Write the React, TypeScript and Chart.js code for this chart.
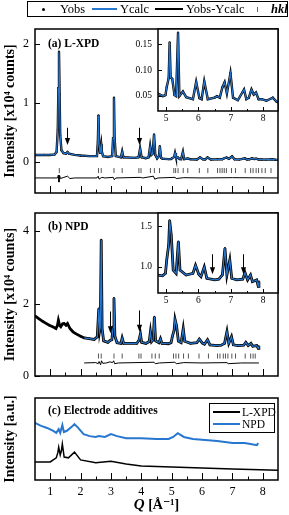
import React, { useEffect, useRef } from 'react';
import { Chart, registerables } from 'chart.js';

Chart.register(...registerables);

const FONT = '"Liberation Serif", "Times New Roman", "DejaVu Serif", serif';
const BLUE = '#2777d0';
const W = 289;
const H = 515;

// ---------------- Panel (a) L-XPD ----------------
const qA = [0.50, 0.80, 1.00, 1.15, 1.21, 1.25, 1.27, 1.29, 1.31, 1.33, 1.37, 1.44, 1.52, 1.57, 1.62, 1.80, 2.00, 2.30, 2.54, 2.57, 2.59, 2.61, 2.64, 2.66, 2.68, 2.70, 2.74, 2.90, 3.04, 3.07, 3.10, 3.12, 3.16, 3.33, 3.37, 3.41, 3.80, 3.91, 3.96, 4.01, 4.15, 4.24, 4.29, 4.33, 4.37, 4.42, 4.46, 4.52, 4.58, 4.61, 4.65, 4.70, 4.75, 4.90, 4.98, 5.02, 5.08, 5.11, 5.14, 5.19, 5.26, 5.31, 5.37, 5.41, 5.52, 5.62, 5.83, 5.93, 6.03, 6.10, 6.18, 6.29, 6.50, 6.57, 6.66, 6.74, 6.81, 6.88, 6.99, 7.07, 7.22, 7.41, 7.48, 7.56, 7.64, 7.71, 7.78, 7.86, 7.96, 8.10, 8.30, 8.42, 8.50];
const yobsA = [0.12, 0.12, 0.12, 0.13, 0.17, 0.55, 1.25, 1.87, 1.15, 0.45, 0.20, 0.15, 0.14, 0.17, 0.14, 0.12, 0.11, 0.10, 0.10, 0.35, 0.79, 0.30, 0.16, 0.22, 0.30, 0.18, 0.10, 0.085, 0.10, 0.40, 1.09, 0.40, 0.10, 0.08, 0.18, 0.08, 0.07, 0.08, 0.23, 0.08, 0.065, 0.08, 0.27, 0.12, 0.14, 0.47, 0.12, 0.06, 0.10, 0.27, 0.07, 0.055, 0.054, 0.049, 0.051, 0.067, 0.084, 0.154, 0.085, 0.083, 0.051, 0.049, 0.173, 0.049, 0.058, 0.047, 0.043, 0.077, 0.045, 0.043, 0.078, 0.043, 0.046, 0.049, 0.046, 0.066, 0.076, 0.054, 0.094, 0.046, 0.041, 0.062, 0.043, 0.046, 0.062, 0.052, 0.056, 0.043, 0.043, 0.040, 0.046, 0.038, 0.037];
// the calculated profile overlays the observed one within the line width
const ycalcA = yobsA;
const qDiffA = [0.50, 1.00, 1.24, 1.27, 1.29, 1.31, 1.34, 1.45, 1.57, 1.65, 1.80, 2.54, 2.58, 2.61, 2.70, 2.80, 3.08, 3.11, 3.16, 3.96, 4.05, 4.40, 4.44, 4.55, 5.11, 5.15, 5.40, 6.00, 7.00, 8.50];
const diffA = [-0.27, -0.27, -0.27, -0.22, -0.34, -0.23, -0.28, -0.26, -0.24, -0.28, -0.27, -0.27, -0.24, -0.29, -0.26, -0.27, -0.26, -0.30, -0.27, -0.26, -0.27, -0.24, -0.29, -0.27, -0.26, -0.28, -0.265, -0.27, -0.265, -0.27];
const hklA = [1.30, 2.59, 2.68, 3.10, 3.37, 3.92, 3.99, 4.30, 4.43, 4.60, 5.07, 5.13, 5.21, 5.38, 5.53, 5.91, 6.19, 6.51, 6.59, 6.66, 6.73, 6.80, 6.97, 7.10, 7.42, 7.60, 7.68, 7.78, 7.86, 7.97, 8.08, 8.27];
const hklRowA = -0.145;
const arrowQA = [1.56, 3.94];
const arrowFromA = [0.58, 0.58];
const arrowToA = [0.29, 0.29];

// ---------------- Panel (b) NPD ----------------
const qB = [0.50, 0.60, 0.75, 0.85, 0.97, 1.10, 1.19, 1.24, 1.27, 1.31, 1.35, 1.41, 1.46, 1.52, 1.57, 1.65, 1.75, 1.84, 2.00, 2.12, 2.28, 2.45, 2.55, 2.60, 2.63, 2.65, 2.68, 2.71, 2.76, 2.90, 2.97, 3.03, 3.07, 3.10, 3.13, 3.20, 3.33, 3.37, 3.42, 3.85, 3.92, 3.97, 4.01, 4.15, 4.26, 4.30, 4.34, 4.39, 4.43, 4.47, 4.58, 4.63, 4.68, 4.73, 4.89, 4.98, 5.02, 5.08, 5.11, 5.16, 5.22, 5.31, 5.38, 5.43, 5.62, 5.83, 5.91, 6.01, 6.08, 6.18, 6.26, 6.50, 6.63, 6.74, 6.82, 6.88, 6.97, 7.03, 7.18, 7.37, 7.44, 7.52, 7.61, 7.67, 7.74, 7.80, 7.85, 7.87];
const yobsB = [1.66, 1.60, 1.51, 1.46, 1.40, 1.35, 1.31, 1.40, 1.54, 1.40, 1.36, 1.44, 1.45, 1.40, 1.45, 1.31, 1.22, 1.17, 1.10, 1.05, 1.03, 1.01, 1.08, 1.86, 1.25, 1.35, 3.76, 1.30, 0.97, 0.93, 0.98, 1.00, 1.35, 2.15, 1.10, 0.92, 0.90, 1.05, 0.90, 0.90, 0.98, 1.16, 0.93, 0.90, 0.95, 1.22, 0.95, 1.00, 1.63, 0.97, 0.92, 1.03, 0.90, 0.90, 0.89, 0.92, 1.085, 1.27, 1.57, 1.39, 0.96, 0.92, 1.31, 0.96, 0.90, 0.92, 1.02, 0.91, 0.88, 1.00, 0.86, 0.84, 0.85, 0.90, 1.23, 0.90, 1.085, 0.86, 0.84, 0.85, 0.93, 0.84, 0.90, 0.82, 0.83, 0.84, 0.76, 0.82];
const ycalcB = yobsB;
const refineStartB = 2.12;
const qDiffB = [2.12, 2.50, 2.58, 2.61, 2.66, 2.69, 2.73, 2.85, 2.97, 3.05, 3.09, 3.12, 3.25, 4.42, 4.46, 4.60, 5.10, 5.16, 5.40, 6.00, 6.82, 6.86, 7.30, 7.87];
const diffB = [0.36, 0.37, 0.34, 0.40, 0.31, 0.42, 0.35, 0.36, 0.39, 0.37, 0.42, 0.34, 0.36, 0.38, 0.34, 0.36, 0.38, 0.34, 0.37, 0.36, 0.37, 0.34, 0.36, 0.36];
const hklB = [2.59, 2.68, 3.10, 3.37, 3.92, 3.99, 4.35, 4.46, 4.59, 5.06, 5.14, 5.23, 5.39, 5.55, 5.90, 6.21, 6.51, 6.59, 6.70, 6.77, 6.85, 6.98, 7.10, 7.42, 7.60, 7.68, 7.75];
const hklRowB = 0.55;
const arrowQB = [2.97, 3.94];
const arrowFromB = [1.78, 1.81];
const arrowToB = [1.18, 1.22];
const arrowQInsetB = [6.43, 7.37];
const arrowFromInsetB = [1.155, 1.155];
const arrowToInsetB = [0.91, 0.91];

// ---------------- Panel (c) Electrode additives ----------------
const qCX = [0.50, 1.00, 1.20, 1.25, 1.28, 1.33, 1.37, 1.40, 1.46, 1.60, 1.80, 2.00, 2.50, 3.00, 3.50, 4.00, 5.00, 6.00, 7.00, 8.50];
const cXPD = [2.2, 2.2, 2.7, 3.3, 4.0, 3.05, 3.6, 4.4, 2.8, 2.7, 3.4, 2.45, 2.1, 2.3, 1.95, 1.7, 1.6, 1.45, 1.35, 1.2];
const qCN = [0.50, 0.70, 0.90, 1.10, 1.20, 1.28, 1.33, 1.40, 1.45, 1.55, 1.70, 1.80, 1.90, 2.10, 2.30, 2.50, 2.60, 2.80, 3.00, 3.20, 3.50, 4.00, 4.50, 4.90, 5.05, 5.20, 5.40, 5.70, 6.00, 6.50, 7.00, 7.40, 7.60, 7.80, 7.85];
const cNPD = [6.95, 6.6, 6.35, 6.0, 5.75, 6.2, 5.75, 6.7, 5.85, 6.0, 6.45, 6.8, 6.45, 5.6, 5.35, 5.25, 5.35, 5.25, 5.6, 5.35, 5.1, 5.1, 5.0, 5.0, 5.25, 5.7, 5.25, 5.0, 4.9, 4.75, 4.5, 4.5, 4.4, 4.25, 4.5];

// ---------------- Axis ticks ----------------
const qMajorTicks = [1, 2, 3, 4, 5, 6, 7, 8];
const qMinorTicks = [1.5, 2.5, 3.5, 4.5, 5.5, 6.5, 7.5];
const insetMajorTicks = [5, 6, 7, 8];
const insetMinorTicks = [5.5, 6.5, 7.5];
const yTicksA = [0, 1, 2];
const yTicksB = [0, 2, 4];
const yTicksInsetA = [0.05, 0.10, 0.15];
const yTicksInsetB = [1.0, 1.5];

const pts = (xs: number[], ys: number[]) => xs.map((x, i) => ({ x, y: ys[i] }));
const row = (xs: number[], y: number) => xs.map((x) => ({ x, y }));

type Spec = {
  id: string;
  area: [number, number, number, number];
  xMin: number; xMax: number; yMin: number; yMax: number;
  datasets: any[];
  xLabels: number[] | null; xDec: number; xFont: number; xPad: number;
  yLabels: number[] | null; yDec: number; yFont: number; yPad: number;
  xMajor: number[]; xMinor: number[]; majorLen: number; minorLen: number;
  yMajor: number[]; yLen: number;
  arrows: { q: number[]; from: number[]; to: number[] } | null;
  label?: string; labelDy?: number;
  whiteBg?: boolean;
  yTitle?: string;
  xTitle?: boolean;
};

function makeDecor(s: Spec) {
  return {
    id: 'decor_' + s.id,
    beforeDraw(chart: any) {
      if (!s.whiteBg) return;
      const { ctx, chartArea: a } = chart;
      ctx.save();
      ctx.fillStyle = '#fff';
      ctx.fillRect(a.left, a.top, a.right - a.left, a.bottom - a.top);
      ctx.restore();
    },
    afterDraw(chart: any) {
      const { ctx, chartArea: a, scales } = chart;
      const xs = scales.x;
      const ys = scales.y;
      ctx.save();
      ctx.strokeStyle = '#000';
      ctx.fillStyle = '#000';
      ctx.lineWidth = 1;
      ctx.beginPath();
      s.xMajor.forEach((v) => {
        const px = Math.round(xs.getPixelForValue(v)) + 0.5;
        ctx.moveTo(px, a.bottom);
        ctx.lineTo(px, a.bottom - s.majorLen);
      });
      s.xMinor.forEach((v) => {
        const px = Math.round(xs.getPixelForValue(v)) + 0.5;
        ctx.moveTo(px, a.bottom);
        ctx.lineTo(px, a.bottom - s.minorLen);
      });
      s.yMajor.forEach((v) => {
        const py = Math.round(ys.getPixelForValue(v)) + 0.5;
        ctx.moveTo(a.left, py);
        ctx.lineTo(a.left + s.yLen, py);
      });
      ctx.stroke();
      if (s.arrows) {
        s.arrows.q.forEach((q, i) => {
          const px = Math.round(xs.getPixelForValue(q)) + 0.5;
          const p0 = ys.getPixelForValue(s.arrows!.from[i]);
          const p1 = ys.getPixelForValue(s.arrows!.to[i]);
          ctx.beginPath();
          ctx.moveTo(px, p0);
          ctx.lineTo(px, p1 - 5);
          ctx.stroke();
          ctx.beginPath();
          ctx.moveTo(px, p1);
          ctx.lineTo(px - 2.6, p1 - 7);
          ctx.lineTo(px + 2.6, p1 - 7);
          ctx.closePath();
          ctx.fill();
        });
      }
      ctx.lineWidth = 1.5;
      ctx.strokeRect(a.left, a.top, a.right - a.left, a.bottom - a.top);
      if (s.label) {
        ctx.font = `bold 11.5px ${FONT}`;
        ctx.textAlign = 'left';
        ctx.textBaseline = 'middle';
        ctx.fillText(s.label, a.left + 13, a.top + (s.labelDy ?? 14));
      }
      if (s.yTitle) {
        ctx.save();
        ctx.translate(10, (a.top + a.bottom) / 2);
        ctx.rotate(-Math.PI / 2);
        ctx.font = `bold 14px ${FONT}`;
        ctx.textAlign = 'center';
        ctx.textBaseline = 'middle';
        ctx.fillText(s.yTitle, 0, 0);
        ctx.restore();
      }
      if (s.xTitle) {
        const q = 'Q';
        const rest = ' [Å⁻¹]';
        ctx.textBaseline = 'middle';
        ctx.textAlign = 'left';
        ctx.font = `italic bold 15px ${FONT}`;
        const wq = ctx.measureText(q).width;
        ctx.font = `bold 14px ${FONT}`;
        const wr = ctx.measureText(rest).width;
        const cx = (a.left + a.right) / 2;
        const x0 = cx - (wq + wr) / 2;
        ctx.font = `italic bold 15px ${FONT}`;
        ctx.fillText(q, x0, 505);
        ctx.font = `bold 14px ${FONT}`;
        ctx.fillText(rest, x0 + wq, 505);
      }
      ctx.restore();
    },
  };
}

const Y_AXIS_W = 30;
const X_AXIS_H = 18;

function buildConfig(s: Spec): any {
  const [l, t, r, b] = s.area;
  return {
    type: 'line',
    data: { datasets: s.datasets },
    options: {
      responsive: false,
      animation: false,
      events: [],
      layout: {
        padding: { left: l - Y_AXIS_W, top: t, right: W - r, bottom: H - b - X_AXIS_H },
        autoPadding: false,
      },
      plugins: { legend: { display: false }, tooltip: { enabled: false }, title: { display: false } },
      elements: { line: { tension: 0 }, point: { radius: 0 } },
      scales: {
        x: {
          type: 'linear',
          min: s.xMin,
          max: s.xMax,
          afterFit: (sc: any) => { sc.height = X_AXIS_H; },
          afterBuildTicks: (sc: any) => {
            if (s.xLabels) sc.ticks = s.xLabels.map((v) => ({ value: v }));
          },
          grid: { display: false, drawTicks: false },
          border: { display: false },
          ticks: {
            display: !!s.xLabels,
            color: '#000',
            padding: s.xPad,
            maxRotation: 0,
            autoSkip: false,
            font: { family: FONT, size: s.xFont },
            callback: (v: any) => Number(v).toFixed(s.xDec),
          },
        },
        y: {
          type: 'linear',
          min: s.yMin,
          max: s.yMax,
          afterFit: (sc: any) => { sc.width = Y_AXIS_W; },
          afterBuildTicks: (sc: any) => {
            if (s.yLabels) sc.ticks = s.yLabels.map((v) => ({ value: v }));
          },
          grid: { display: false, drawTicks: false },
          border: { display: false },
          ticks: {
            display: !!s.yLabels,
            color: '#000',
            padding: s.yPad,
            autoSkip: false,
            font: { family: FONT, size: s.yFont },
            callback: (v: any) => Number(v).toFixed(s.yDec),
          },
        },
      },
    },
    plugins: [makeDecor(s)],
  };
}

const calcDs = (data: any[]) => ({ data, borderColor: BLUE, borderWidth: 1.2, pointRadius: 0 });
const obsDs = (data: any[], w: number) => ({
  data, borderColor: '#000', borderWidth: w, pointRadius: 1.1, pointBackgroundColor: '#000', pointBorderWidth: 0,
});
const diffDs = (data: any[]) => ({ data, borderColor: '#000', borderWidth: 1, pointRadius: 0 });
const hklDs = (data: any[]) => ({
  data, showLine: false, pointStyle: 'line', pointRotation: 90, pointRadius: 2.5,
  pointBorderColor: '#555', pointBorderWidth: 1, pointBackgroundColor: '#555',
});

const calcBIdx = qB.map((q, i) => (q >= refineStartB ? i : -1)).filter((i) => i >= 0);

const specs: Spec[] = [
  {
    id: 'a', area: [35, 29, 278, 193], xMin: 0.5, xMax: 8.5, yMin: -0.525, yMax: 2.254,
    datasets: [calcDs(pts(qA, ycalcA)), obsDs(pts(qA, yobsA), 2.4), diffDs(pts(qDiffA, diffA)), hklDs(row(hklA, hklRowA))],
    xLabels: null, xDec: 0, xFont: 12, xPad: 5,
    yLabels: yTicksA, yDec: 0, yFont: 12, yPad: 6,
    xMajor: qMajorTicks, xMinor: qMinorTicks, majorLen: 7, minorLen: 3.5,
    yMajor: yTicksA, yLen: 5,
    arrows: { q: arrowQA, from: arrowFromA, to: arrowToA },
    label: '(a) L-XPD', labelDy: 15,
    yTitle: 'Intensity [x10⁴ counts]',
  },
  {
    id: 'ia', area: [158, 29, 278, 111], xMin: 4.75, xMax: 8.46, yMin: 0.02, yMax: 0.18,
    datasets: [calcDs(pts(qA, ycalcA)), obsDs(pts(qA, yobsA), 2.4)],
    xLabels: insetMajorTicks, xDec: 0, xFont: 9.5, xPad: 2,
    yLabels: yTicksInsetA, yDec: 2, yFont: 9.5, yPad: 6,
    xMajor: insetMajorTicks, xMinor: insetMinorTicks, majorLen: 4, minorLen: 2,
    yMajor: yTicksInsetA, yLen: 4,
    arrows: null, whiteBg: true,
  },
  {
    id: 'b', area: [35, 213, 278, 376], xMin: 0.5, xMax: 8.5, yMin: 0, yMax: 4.5,
    datasets: [
      calcDs(calcBIdx.map((i) => ({ x: qB[i], y: ycalcB[i] }))),
      obsDs(pts(qB, yobsB), 2.8),
      diffDs(pts(qDiffB, diffB)),
      hklDs(row(hklB, hklRowB)),
    ],
    xLabels: null, xDec: 0, xFont: 12, xPad: 5,
    yLabels: yTicksB, yDec: 0, yFont: 12, yPad: 6,
    xMajor: qMajorTicks, xMinor: qMinorTicks, majorLen: 7, minorLen: 3.5,
    yMajor: yTicksB, yLen: 5,
    arrows: { q: arrowQB, from: arrowFromB, to: arrowToB },
    label: '(b) NPD', labelDy: 14,
    yTitle: 'Intensity [x10⁴ counts]',
  },
  {
    id: 'ib', area: [158, 213, 278, 293], xMin: 4.75, xMax: 8.46, yMin: 0.68, yMax: 1.66,
    datasets: [calcDs(calcBIdx.map((i) => ({ x: qB[i], y: ycalcB[i] }))), obsDs(pts(qB, yobsB), 2.8)],
    xLabels: insetMajorTicks, xDec: 0, xFont: 9.5, xPad: 2,
    yLabels: yTicksInsetB, yDec: 1, yFont: 9.5, yPad: 6,
    xMajor: insetMajorTicks, xMinor: insetMinorTicks, majorLen: 4, minorLen: 2,
    yMajor: yTicksInsetB, yLen: 4,
    arrows: { q: arrowQInsetB, from: arrowFromInsetB, to: arrowToInsetB }, whiteBg: true,
  },
  {
    id: 'c', area: [35, 398, 278, 480], xMin: 0.5, xMax: 8.5, yMin: 0, yMax: 10,
    datasets: [
      { data: pts(qCX, cXPD), borderColor: '#000', borderWidth: 1.5, pointRadius: 0 },
      { data: pts(qCN, cNPD), borderColor: BLUE, borderWidth: 2, pointRadius: 0 },
    ],
    xLabels: qMajorTicks, xDec: 0, xFont: 12, xPad: 5,
    yLabels: null, yDec: 0, yFont: 12, yPad: 6,
    xMajor: qMajorTicks, xMinor: qMinorTicks, majorLen: 7, minorLen: 3.5,
    yMajor: [], yLen: 5,
    arrows: null,
    label: '(c) Electrode additives', labelDy: 13,
    yTitle: 'Intensity [a.u.]',
    xTitle: true,
  },
];

function Panel({ spec }: { spec: Spec }) {
  const ref = useRef<HTMLCanvasElement | null>(null);
  useEffect(() => {
    const chart = new Chart(ref.current as HTMLCanvasElement, buildConfig(spec));
    return () => chart.destroy();
  }, [spec]);
  return (
    <canvas
      ref={ref}
      width={W}
      height={H}
      style={{ position: 'absolute', left: 0, top: 0, width: W, height: H }}
    />
  );
}

const txt = (left: number, top: number, text: string, extra: any = {}) => (
  <span
    style={{
      position: 'absolute', left, top, fontFamily: FONT, fontSize: 12.5, lineHeight: '16px',
      color: '#000', whiteSpace: 'nowrap', ...extra,
    }}
  >
    {text}
  </span>
);

export default function App() {
  return (
    <div style={{ position: 'absolute', left: 0, top: 0, width: W, height: H, background: '#fff', overflow: 'hidden' }}>
      {specs.map((s) => (
        <Panel key={s.id} spec={s} />
      ))}
      {/* top legend */}
      <div style={{ position: 'absolute', left: 27, top: 1, width: 261, height: 16, border: '1px solid #000', boxSizing: 'border-box' }} />
      <div style={{ position: 'absolute', left: 41.5, top: 7.5, width: 3, height: 3, borderRadius: 2, background: '#000' }} />
      {txt(60, 1, 'Yobs')}
      <div style={{ position: 'absolute', left: 92, top: 8, width: 25, height: 2, background: BLUE }} />
      {txt(120, 1, 'Ycalc')}
      <div style={{ position: 'absolute', left: 155, top: 8, width: 28, height: 1.5, background: '#000' }} />
      {txt(186, 1, 'Yobs-Ycalc')}
      <div style={{ position: 'absolute', left: 257, top: 6.5, width: 1, height: 5, background: '#666' }} />
      {txt(271, 1, 'hkl', { fontStyle: 'italic', fontWeight: 'bold' })}
      {/* panel (c) legend */}
      <div style={{ position: 'absolute', left: 209, top: 403, width: 66, height: 30, border: '1px solid #000', boxSizing: 'border-box', background: '#fff' }} />
      <div style={{ position: 'absolute', left: 213, top: 411, width: 27, height: 2, background: '#000' }} />
      {txt(242, 404, 'L-XPD', { fontSize: 11.5 })}
      <div style={{ position: 'absolute', left: 213, top: 423, width: 27, height: 2, background: BLUE }} />
      {txt(242, 416, 'NPD', { fontSize: 11.5 })}
    </div>
  );
}
